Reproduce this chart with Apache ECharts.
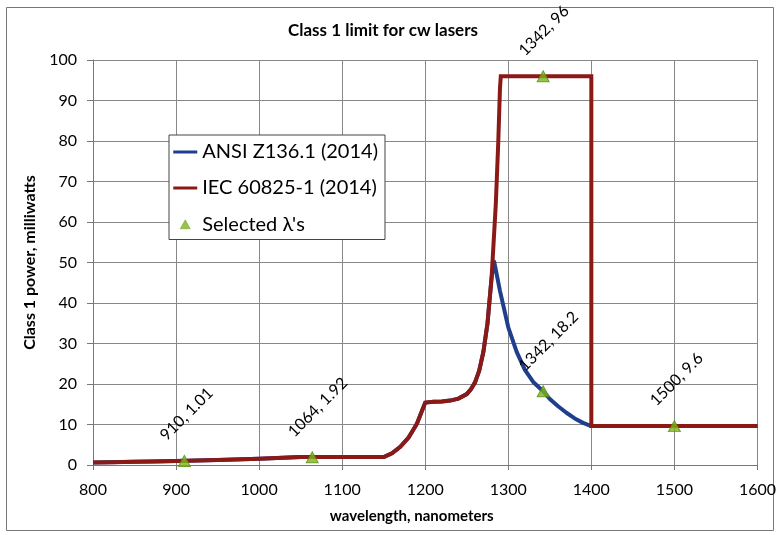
<!DOCTYPE html>
<html><head><meta charset="utf-8">
<script src="https://cdn.jsdelivr.net/npm/echarts@6/dist/echarts.min.js"></script>
<style>html,body{margin:0;padding:0;background:#fff}#c{width:779px;height:535px}</style>
</head><body><div id="c"></div>
<script>
const xTicks = [800, 900, 1000, 1100, 1200, 1300, 1400, 1500, 1600];
const yTicks = [0, 10, 20, 30, 40, 50, 60, 70, 80, 90, 100];
const iecWavelength = [800, 825, 850, 875, 900, 950, 1000, 1050, 1100, 1150, 1160, 1170, 1180, 1190, 1200, 1210, 1220, 1230, 1240, 1250, 1255, 1260, 1265, 1270, 1275, 1280, 1285, 1288, 1290, 1291, 1400, 1400, 1600];
const iecPower      = [0.62, 0.69, 0.78, 0.87, 0.98, 1.23, 1.55, 1.95, 1.95, 1.95, 2.9, 4.5, 6.8, 10.2, 15.4, 15.6, 15.7, 15.9, 16.4, 17.5, 18.7, 20.4, 23.3, 27.9, 35.0, 46.5, 64.5, 80, 93, 96, 96, 9.6, 9.6];
const ansiWavelength = [800, 850, 900, 950, 1000, 1050, 1150, 1160, 1170, 1180, 1190, 1200, 1210, 1220, 1230, 1240, 1250, 1255, 1260, 1265, 1270, 1275, 1280, 1283, 1290, 1300, 1310, 1320, 1330, 1342, 1350, 1360, 1370, 1380, 1390, 1400, 1600];
const ansiPower      = [0.62, 0.78, 0.98, 1.23, 1.55, 1.95, 1.95, 2.9, 4.5, 6.8, 10.2, 15.4, 15.6, 15.7, 15.9, 16.4, 17.5, 18.7, 20.4, 23.3, 27.9, 35.0, 46.5, 50.2, 43, 34, 28, 23.5, 20.5, 18.2, 16.3, 14.5, 12.9, 11.5, 10.4, 9.6, 9.6];
const selWavelength = [910, 1064, 1342, 1342, 1500];
const selPower      = [1.01, 1.92, 18.2, 96, 9.6];
const selLabels     = ['910, 1.01', '1064, 1.92', '1342, 18.2', '1342, 96', '1500, 9.6'];

const zip = (a, b) => a.map((v, i) => [v, b[i]]);
const FONT = 'Lato';
const LINE_ICON = 'path://M0,0 M24,20 M0,8.5 L24,8.5 L24,11.5 L0,11.5 Z';
const TRI_ICON = 'path://M0,0 M24,20 M12,5.5 L17,14.5 L7,14.5 Z';
const chart = echarts.init(document.getElementById('c'));
chart.setOption({
  animation: false,
  textStyle: { fontFamily: FONT },
  title: { text: 'Class 1 limit for cw lasers', left: 378, top: 17, textAlign: 'center',
    textStyle: { fontFamily: FONT, fontSize: 17, fontWeight: 'bold', color: '#000' } },
  graphic: [{ type: 'rect', shape: { x: 6.5, y: 7.5, width: 767, height: 523 },
    style: { fill: 'none', stroke: '#777', lineWidth: 1 }, silent: true, z: -10 }],
  grid: { left: 93, right: 19, top: 60, bottom: 70 },
  legend: {
    orient: 'vertical', left: 169, top: 135,
    padding: [7, 7, 5, 4], itemGap: 16, itemWidth: 24, itemHeight: 20,
    backgroundColor: '#fff', borderColor: '#444', borderWidth: 1,
    textStyle: { fontFamily: FONT, fontSize: 20, color: '#000', width: 180 },
    data: [
      { name: 'ANSI Z136.1 (2014)', icon: LINE_ICON, itemStyle: { color: '#1f3f8e' } },
      { name: 'IEC 60825-1 (2014)', icon: LINE_ICON, itemStyle: { color: '#8b1a17' } },
      { name: 'Selected λ\'s', icon: TRI_ICON, itemStyle: { color: '#7cb518', borderColor: '#5b8a12', borderWidth: 0.5 } }
    ]
  },
  xAxis: {
    type: 'value', min: 800, max: 1600, interval: 100,
    name: 'wavelength, nanometers', nameLocation: 'middle', nameGap: 44,
    nameTextStyle: { fontFamily: FONT, fontSize: 15, fontWeight: 'bold', color: '#000', padding: [0, 27, 0, 0] },
    axisLine: { lineStyle: { color: '#777', width: 1 } },
    axisTick: { show: true, length: 5, lineStyle: { color: '#777' } },
    axisLabel: { fontFamily: FONT, fontSize: 16, color: '#000', margin: 17,
      formatter: v => xTicks.includes(v) ? String(v) : '' },
    splitLine: { show: true, lineStyle: { color: '#888', width: 1 } }
  },
  yAxis: {
    type: 'value', min: 0, max: 100, interval: 10,
    name: 'Class 1 power, milliwatts', nameLocation: 'middle', nameGap: 50,
    nameTextStyle: { fontFamily: FONT, fontSize: 16, fontWeight: 'bold', color: '#000' },
    axisLine: { show: true, lineStyle: { color: '#777', width: 1 } },
    axisTick: { show: true, length: 6, lineStyle: { color: '#777' } },
    axisLabel: { fontFamily: FONT, fontSize: 16, color: '#000', margin: 16,
      formatter: v => yTicks.includes(v) ? String(v) : '' },
    splitLine: { show: true, lineStyle: { color: '#888', width: 1 } }
  },
  series: [
    { name: 'ANSI Z136.1 (2014)', type: 'line', data: zip(ansiWavelength, ansiPower),
      symbol: 'none', smooth: false, color: '#1f3f8e',
      lineStyle: { color: '#1f3f8e', width: 4, join: 'round' }, z: 2 },
    { name: 'IEC 60825-1 (2014)', type: 'line', data: zip(iecWavelength, iecPower),
      symbol: 'none', smooth: false, color: '#8b1a17',
      lineStyle: { color: '#8b1a17', width: 4, join: 'miter' }, z: 3 },
    { name: 'Selected λ\'s', type: 'scatter', symbol: 'triangle', symbolSize: [12, 11],
      data: selWavelength.map((w, i) => ({ value: [w, selPower[i]], label: { formatter: selLabels[i] } })),
      itemStyle: { color: '#7cb518', borderColor: '#5b8a12', borderWidth: 1 }, z: 5,
      label: { show: true, position: [-15, -17], rotate: 45, align: 'left', verticalAlign: 'middle',
        fontFamily: FONT, fontSize: 16, color: '#000', textBorderWidth: 0, opacity: 1 } }
  ]
});
</script></body></html>
